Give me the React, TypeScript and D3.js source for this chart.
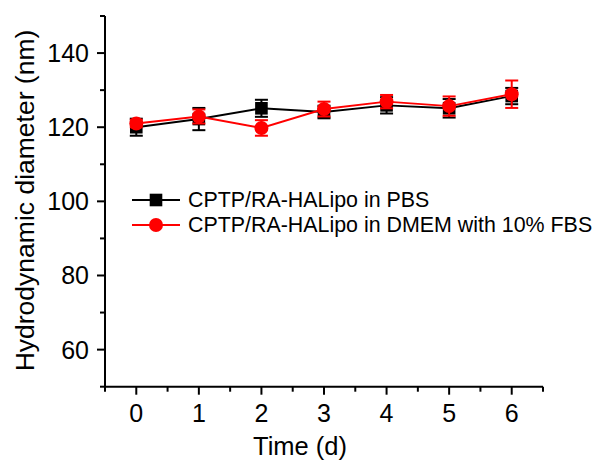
import { scaleLinear, line, range } from "d3";

// time points (d)
const days = [0, 1, 2, 3, 4, 5, 6];
// CPTP/RA-HALipo in PBS
const pbsMean = [120, 122.2, 125.1, 124.1, 125.9, 125.1, 128.4];
const pbsErr = [2.3, 3, 2.3, 1.7, 2.2, 2.5, 2.2];
// CPTP/RA-HALipo in DMEM with 10% FBS
const dmemMean = [121, 122.9, 119.8, 124.9, 126.9, 125.7, 128.9];
const dmemErr = [1, 1.9, 2.1, 2, 1.8, 2.6, 3.7];

const xTicks = [0, 1, 2, 3, 4, 5, 6];
const yTicks = [60, 80, 100, 120, 140];

const FONT = "Arial, 'Liberation Sans', sans-serif";
const RED = "#ff0000";

function App() {
    const W = 596;
    const H = 464;
    const x = scaleLinear().domain([-0.5, 6.5]).range([105, 543]);
    const y = scaleLinear().domain([50, 150]).range([386.7, 16]);

    const xMinor = range(-0.5, 6.51, 0.5);
    const yMinor = range(50, 150.1, 10);

    const path = line<number>()
        .x((d, i) => x(days[i]))
        .y((d) => y(d));

    const series = [
        { name: "CPTP/RA-HALipo in PBS", mean: pbsMean, err: pbsErr, color: "#000", shape: "square" },
        { name: "CPTP/RA-HALipo in DMEM with 10% FBS", mean: dmemMean, err: dmemErr, color: RED, shape: "circle" },
    ];

    const marker = (shape: string, cx: number, cy: number, color: string, key?: any) =>
        shape === "square" ? (
            <rect key={key} x={cx - 6.3} y={cy - 6.3} width={12.6} height={12.6} fill={color} />
        ) : (
            <circle key={key} cx={cx} cy={cy} r={7} fill={color} />
        );

    return (
        <svg
            width={W}
            height={H}
            style={{ position: "absolute", left: 0, top: 0, background: "#fff" }}
            fontFamily={FONT}
        >
            {/* series */}
            {series.map((s) => (
                <g key={s.name}>
                    <path d={path(s.mean) || ""} fill="none" stroke={s.color} strokeWidth={1.9} />
                    {s.mean.map((m, i) => {
                        const cx = x(days[i]);
                        const y1 = y(m + s.err[i]);
                        const y0 = y(m - s.err[i]);
                        return (
                            <g key={i} stroke={s.color} strokeWidth={2}>
                                <line x1={cx} x2={cx} y1={y1} y2={y0} />
                                <line x1={cx - 6.5} x2={cx + 6.5} y1={y1} y2={y1} />
                                <line x1={cx - 6.5} x2={cx + 6.5} y1={y0} y2={y0} />
                            </g>
                        );
                    })}
                    {s.mean.map((m, i) => marker(s.shape, x(days[i]), y(m), s.color, i))}
                </g>
            ))}

            {/* axes */}
            <g stroke="#000" strokeWidth={2}>
                <line x1={x(-0.5)} x2={x(-0.5)} y1={y(150)} y2={y(50) + 1} />
                <line x1={x(-0.5) - 1} x2={x(6.5)} y1={y(50)} y2={y(50)} />
                {xMinor.map((t) => (
                    <line key={"xm" + t} x1={x(t)} x2={x(t)} y1={y(50)} y2={y(50) + (Number.isInteger(t) ? 8 : 5)} />
                ))}
                {yMinor.map((t) => (
                    <line key={"ym" + t} x1={x(-0.5)} x2={x(-0.5) - (t % 20 === 0 ? 8 : 5)} y1={y(t)} y2={y(t)} />
                ))}
            </g>
            {xTicks.map((t) => (
                <text key={"xt" + t} x={x(t)} y={422} fontSize={25} textAnchor="middle">
                    {t}
                </text>
            ))}
            {yTicks.map((t) => (
                <text key={"yt" + t} x={89} y={y(t)} fontSize={25} textAnchor="end" dominantBaseline="central">
                    {t}
                </text>
            ))}
            <text x={300} y={455} fontSize={25.5} textAnchor="middle">
                Time (d)
            </text>
            <text
                transform={`translate(33.5, ${(28 + 373) / 2}) rotate(-90)`}
                fontSize={26.5}
                textAnchor="middle"
            >
                Hydrodynamic diameter (nm)
            </text>

            {/* legend */}
            {series.map((s, i) => {
                const ly = 200 + i * 25;
                return (
                    <g key={"lg" + i}>
                        <line x1={132} x2={180} y1={ly} y2={ly} stroke={s.color} strokeWidth={2} />
                        {marker(s.shape, 156, ly, s.color)}
                        <text x={188} y={ly} fontSize={21.4} dominantBaseline="central">
                            {s.name}
                        </text>
                    </g>
                );
            })}
        </svg>
    );
}

export default App;
